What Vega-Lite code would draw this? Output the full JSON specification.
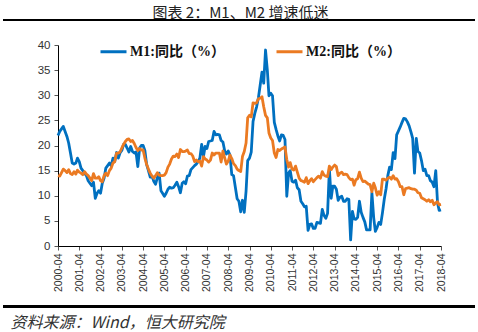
{
  "$schema": "https://vega.github.io/schema/vega-lite/v6.json",
  "autosize": "none",
  "width": 383,
  "height": 201,
  "padding": {"left": 58, "top": 45, "right": 37, "bottom": 86},
  "background": "white",
  "config": {"view": {"stroke": null}, "axis": {"labelOverlap": false}},
  "data": {"values": [
    {"d":"2000-04","m1":22.0,"m2":14.0},{"d":"2000-05","m1":22.8,"m2":13.9},{"d":"2000-06","m1":23.3,"m2":14.6},{"d":"2000-07","m1":23.8,"m2":15.3},{"d":"2000-08","m1":22.8,"m2":15.0},{"d":"2000-09","m1":21.8,"m2":14.6},{"d":"2000-10","m1":20.5,"m2":15.2},{"d":"2000-11","m1":18.5,"m2":14.4},{"d":"2000-12","m1":16.5,"m2":14.2},
    {"d":"2001-01","m1":16.3,"m2":14.8},{"d":"2001-02","m1":16.5,"m2":14.3},{"d":"2001-03","m1":17.5,"m2":15.1},{"d":"2001-04","m1":16.8,"m2":14.7},{"d":"2001-05","m1":15.5,"m2":14.5},{"d":"2001-06","m1":15.0,"m2":14.2},{"d":"2001-07","m1":14.5,"m2":14.8},{"d":"2001-08","m1":14.0,"m2":14.3},{"d":"2001-09","m1":13.0,"m2":14.0},{"d":"2001-10","m1":12.5,"m2":13.5},{"d":"2001-11","m1":12.0,"m2":13.0},{"d":"2001-12","m1":12.7,"m2":14.4},
    {"d":"2002-01","m1":9.5,"m2":13.5},{"d":"2002-02","m1":10.5,"m2":13.5},{"d":"2002-03","m1":11.0,"m2":13.8},{"d":"2002-04","m1":10.5,"m2":13.0},{"d":"2002-05","m1":12.5,"m2":12.8},{"d":"2002-06","m1":13.5,"m2":14.0},{"d":"2002-07","m1":15.5,"m2":14.5},{"d":"2002-08","m1":16.0,"m2":14.0},{"d":"2002-09","m1":16.5,"m2":15.0},{"d":"2002-10","m1":16.0,"m2":15.5},{"d":"2002-11","m1":17.5,"m2":16.5},{"d":"2002-12","m1":16.8,"m2":16.8},
    {"d":"2003-01","m1":18.6,"m2":18.5},{"d":"2003-02","m1":17.5,"m2":18.5},{"d":"2003-03","m1":18.5,"m2":18.7},{"d":"2003-04","m1":19.0,"m2":19.5},{"d":"2003-05","m1":20.2,"m2":20.2},{"d":"2003-06","m1":20.2,"m2":20.8},{"d":"2003-07","m1":19.5,"m2":21.2},{"d":"2003-08","m1":18.7,"m2":21.3},{"d":"2003-09","m1":19.8,"m2":20.8},{"d":"2003-10","m1":18.8,"m2":21.0},{"d":"2003-11","m1":18.5,"m2":20.4},{"d":"2003-12","m1":18.7,"m2":19.6},
    {"d":"2004-01","m1":15.8,"m2":19.0},{"d":"2004-02","m1":19.5,"m2":19.4},{"d":"2004-03","m1":20.0,"m2":19.1},{"d":"2004-04","m1":20.0,"m2":19.1},{"d":"2004-05","m1":19.0,"m2":17.5},{"d":"2004-06","m1":16.2,"m2":16.2},{"d":"2004-07","m1":15.0,"m2":15.3},{"d":"2004-08","m1":13.7,"m2":14.5},{"d":"2004-09","m1":13.9,"m2":13.9},{"d":"2004-10","m1":12.9,"m2":13.5},{"d":"2004-11","m1":12.3,"m2":14.0},{"d":"2004-12","m1":13.6,"m2":14.6},
    {"d":"2005-01","m1":14.5,"m2":14.1},{"d":"2005-02","m1":11.0,"m2":14.0},{"d":"2005-03","m1":10.5,"m2":14.0},{"d":"2005-04","m1":9.9,"m2":14.1},{"d":"2005-05","m1":10.5,"m2":14.6},{"d":"2005-06","m1":11.3,"m2":15.7},{"d":"2005-07","m1":11.7,"m2":16.3},{"d":"2005-08","m1":11.5,"m2":17.3},{"d":"2005-09","m1":11.6,"m2":17.9},{"d":"2005-10","m1":12.1,"m2":17.8},{"d":"2005-11","m1":12.7,"m2":18.3},{"d":"2005-12","m1":11.8,"m2":17.6},
    {"d":"2006-01","m1":10.6,"m2":19.2},{"d":"2006-02","m1":12.5,"m2":18.8},{"d":"2006-03","m1":12.8,"m2":18.8},{"d":"2006-04","m1":12.4,"m2":18.9},{"d":"2006-05","m1":13.9,"m2":19.1},{"d":"2006-06","m1":14.0,"m2":18.4},{"d":"2006-07","m1":15.2,"m2":18.4},{"d":"2006-08","m1":15.6,"m2":17.9},{"d":"2006-09","m1":16.0,"m2":16.8},{"d":"2006-10","m1":16.3,"m2":17.1},{"d":"2006-11","m1":16.8,"m2":16.8},{"d":"2006-12","m1":17.5,"m2":16.9},
    {"d":"2007-01","m1":20.2,"m2":15.9},{"d":"2007-02","m1":17.8,"m2":17.8},{"d":"2007-03","m1":19.8,"m2":17.3},{"d":"2007-04","m1":19.4,"m2":17.1},{"d":"2007-05","m1":20.8,"m2":16.7},{"d":"2007-06","m1":20.9,"m2":17.1},{"d":"2007-07","m1":21.0,"m2":18.5},{"d":"2007-08","m1":22.8,"m2":18.1},{"d":"2007-09","m1":22.1,"m2":18.5},{"d":"2007-10","m1":22.2,"m2":18.5},{"d":"2007-11","m1":22.1,"m2":18.5},{"d":"2007-12","m1":21.0,"m2":16.7},
    {"d":"2008-01","m1":20.7,"m2":18.9},{"d":"2008-02","m1":18.9,"m2":17.5},{"d":"2008-03","m1":18.3,"m2":16.3},{"d":"2008-04","m1":18.9,"m2":16.9},{"d":"2008-05","m1":18.1,"m2":18.1},{"d":"2008-06","m1":14.2,"m2":17.4},{"d":"2008-07","m1":14.0,"m2":16.4},{"d":"2008-08","m1":11.7,"m2":16.0},{"d":"2008-09","m1":9.4,"m2":15.3},{"d":"2008-10","m1":8.9,"m2":15.0},{"d":"2008-11","m1":6.8,"m2":14.8},{"d":"2008-12","m1":9.1,"m2":17.8},
    {"d":"2009-01","m1":6.7,"m2":18.8},{"d":"2009-02","m1":10.9,"m2":20.5},{"d":"2009-03","m1":17.0,"m2":25.5},{"d":"2009-04","m1":17.5,"m2":26.0},{"d":"2009-05","m1":18.7,"m2":25.7},{"d":"2009-06","m1":24.8,"m2":28.5},{"d":"2009-07","m1":26.4,"m2":28.4},{"d":"2009-08","m1":27.7,"m2":28.5},{"d":"2009-09","m1":29.5,"m2":29.3},{"d":"2009-10","m1":32.0,"m2":29.4},{"d":"2009-11","m1":34.6,"m2":29.7},{"d":"2009-12","m1":32.4,"m2":27.7},
    {"d":"2010-01","m1":39.0,"m2":26.0},{"d":"2010-02","m1":35.0,"m2":25.5},{"d":"2010-03","m1":29.9,"m2":22.5},{"d":"2010-04","m1":30.4,"m2":21.5},{"d":"2010-05","m1":29.9,"m2":21.0},{"d":"2010-06","m1":24.6,"m2":18.5},{"d":"2010-07","m1":23.2,"m2":17.6},{"d":"2010-08","m1":21.9,"m2":19.2},{"d":"2010-09","m1":20.9,"m2":19.0},{"d":"2010-10","m1":22.1,"m2":19.3},{"d":"2010-11","m1":22.0,"m2":19.5},{"d":"2010-12","m1":21.2,"m2":19.7},
    {"d":"2011-01","m1":9.9,"m2":17.2},{"d":"2011-02","m1":14.5,"m2":15.7},{"d":"2011-03","m1":15.0,"m2":16.6},{"d":"2011-04","m1":12.9,"m2":15.3},{"d":"2011-05","m1":12.7,"m2":15.1},{"d":"2011-06","m1":13.1,"m2":15.9},{"d":"2011-07","m1":11.6,"m2":14.7},{"d":"2011-08","m1":11.2,"m2":13.5},{"d":"2011-09","m1":8.9,"m2":13.0},{"d":"2011-10","m1":8.4,"m2":12.9},{"d":"2011-11","m1":7.8,"m2":12.7},{"d":"2011-12","m1":7.9,"m2":13.6},
    {"d":"2012-01","m1":3.1,"m2":12.4},{"d":"2012-02","m1":4.3,"m2":13.0},{"d":"2012-03","m1":4.4,"m2":13.4},{"d":"2012-04","m1":3.5,"m2":12.8},{"d":"2012-05","m1":3.5,"m2":13.2},{"d":"2012-06","m1":4.7,"m2":13.6},{"d":"2012-07","m1":4.6,"m2":13.9},{"d":"2012-08","m1":4.5,"m2":13.5},{"d":"2012-09","m1":7.3,"m2":14.8},{"d":"2012-10","m1":6.1,"m2":14.1},{"d":"2012-11","m1":5.5,"m2":13.9},{"d":"2012-12","m1":6.5,"m2":13.8},
    {"d":"2013-01","m1":15.3,"m2":15.9},{"d":"2013-02","m1":9.5,"m2":15.2},{"d":"2013-03","m1":11.9,"m2":15.7},{"d":"2013-04","m1":11.9,"m2":16.1},{"d":"2013-05","m1":11.3,"m2":15.8},{"d":"2013-06","m1":9.1,"m2":14.0},{"d":"2013-07","m1":9.7,"m2":14.5},{"d":"2013-08","m1":9.9,"m2":14.7},{"d":"2013-09","m1":8.9,"m2":14.2},{"d":"2013-10","m1":8.9,"m2":14.3},{"d":"2013-11","m1":9.4,"m2":14.2},{"d":"2013-12","m1":9.3,"m2":13.6},
    {"d":"2014-01","m1":1.2,"m2":13.2},{"d":"2014-02","m1":6.9,"m2":13.3},{"d":"2014-03","m1":5.4,"m2":12.1},{"d":"2014-04","m1":5.3,"m2":13.2},{"d":"2014-05","m1":5.7,"m2":13.4},{"d":"2014-06","m1":8.9,"m2":14.7},{"d":"2014-07","m1":6.7,"m2":13.5},{"d":"2014-08","m1":5.7,"m2":12.8},{"d":"2014-09","m1":4.8,"m2":12.9},{"d":"2014-10","m1":3.2,"m2":12.6},{"d":"2014-11","m1":3.2,"m2":12.3},{"d":"2014-12","m1":3.2,"m2":12.2},
    {"d":"2015-01","m1":10.6,"m2":10.8},{"d":"2015-02","m1":5.6,"m2":12.5},{"d":"2015-03","m1":2.9,"m2":11.6},{"d":"2015-04","m1":3.7,"m2":10.1},{"d":"2015-05","m1":4.7,"m2":10.8},{"d":"2015-06","m1":4.3,"m2":10.2},{"d":"2015-07","m1":6.6,"m2":13.3},{"d":"2015-08","m1":9.3,"m2":13.3},{"d":"2015-09","m1":11.4,"m2":13.1},{"d":"2015-10","m1":14.0,"m2":13.5},{"d":"2015-11","m1":15.7,"m2":13.7},{"d":"2015-12","m1":15.2,"m2":13.3},
    {"d":"2016-01","m1":18.6,"m2":14.0},{"d":"2016-02","m1":17.4,"m2":13.3},{"d":"2016-03","m1":22.1,"m2":13.4},{"d":"2016-04","m1":22.9,"m2":12.8},{"d":"2016-05","m1":23.7,"m2":11.8},{"d":"2016-06","m1":24.6,"m2":11.8},{"d":"2016-07","m1":25.4,"m2":10.2},{"d":"2016-08","m1":25.3,"m2":11.4},{"d":"2016-09","m1":24.7,"m2":11.5},{"d":"2016-10","m1":23.9,"m2":11.6},{"d":"2016-11","m1":22.7,"m2":11.4},{"d":"2016-12","m1":21.4,"m2":11.3},
    {"d":"2017-01","m1":14.5,"m2":11.3},{"d":"2017-02","m1":21.4,"m2":11.1},{"d":"2017-03","m1":18.8,"m2":10.6},{"d":"2017-04","m1":18.5,"m2":10.5},{"d":"2017-05","m1":17.0,"m2":9.6},{"d":"2017-06","m1":15.0,"m2":9.4},{"d":"2017-07","m1":15.3,"m2":9.2},{"d":"2017-08","m1":14.0,"m2":8.9},{"d":"2017-09","m1":14.0,"m2":9.2},{"d":"2017-10","m1":13.0,"m2":8.8},{"d":"2017-11","m1":12.7,"m2":9.1},{"d":"2017-12","m1":11.8,"m2":8.2},
    {"d":"2018-01","m1":15.0,"m2":8.6},{"d":"2018-02","m1":8.5,"m2":8.8},{"d":"2018-03","m1":7.1,"m2":8.2},{"d":"2018-04","m1":7.2,"m2":8.3}
  ]},
  "layer": [
    {
      "transform": [{"fold": ["m1", "m2"], "as": ["s", "v"]}],
      "mark": {"type": "line", "strokeWidth": 2.8, "strokeJoin": "round"},
      "encoding": {
        "x": {
          "field": "d", "type": "temporal",
          "scale": {"type": "utc", "domain": [{"year": 2000, "month": 4, "date": 1, "utc": true}, {"year": 2018, "month": 4, "date": 1, "utc": true}]},
          "axis": {
            "values": [
              {"year": 2000, "month": 4, "date": 1, "utc": true},{"year": 2001, "month": 4, "date": 1, "utc": true},{"year": 2002, "month": 4, "date": 1, "utc": true},{"year": 2003, "month": 4, "date": 1, "utc": true},{"year": 2004, "month": 4, "date": 1, "utc": true},{"year": 2005, "month": 4, "date": 1, "utc": true},{"year": 2006, "month": 4, "date": 1, "utc": true},{"year": 2007, "month": 4, "date": 1, "utc": true},{"year": 2008, "month": 4, "date": 1, "utc": true},{"year": 2009, "month": 4, "date": 1, "utc": true},{"year": 2010, "month": 4, "date": 1, "utc": true},{"year": 2011, "month": 4, "date": 1, "utc": true},{"year": 2012, "month": 4, "date": 1, "utc": true},{"year": 2013, "month": 4, "date": 1, "utc": true},{"year": 2014, "month": 4, "date": 1, "utc": true},{"year": 2015, "month": 4, "date": 1, "utc": true},{"year": 2016, "month": 4, "date": 1, "utc": true},{"year": 2017, "month": 4, "date": 1, "utc": true},{"year": 2018, "month": 4, "date": 1, "utc": true}
            ],
            "tickCount": 40,
            "format": "%Y-%m",
            "labelAngle": 270,
            "labelAlign": "right",
            "labelBaseline": "middle",
            "labelFont": "Liberation Sans",
            "labelFontSize": 10.5,
            "labelColor": "#333333",
            "labelPadding": 3,
            "labelOverlap": false,
            "labelFlush": false,
            "tickSize": 4,
            "tickColor": "#555555",
            "domainColor": "#000000",
            "domainWidth": 1,
            "grid": false,
            "title": "资料来源：Wind，恒大研究院",
            "titleFont": "Noto Sans CJK SC",
            "titleFontSize": 16,
            "titleFontWeight": "normal",
            "titleFontStyle": "italic",
            "titleColor": "#333333",
            "titleAlign": "left",
            "titleBaseline": "alphabetic",
            "titleAngle": 0,
            "titleX": -48,
            "titleY": 81
          }
        },
        "y": {
          "field": "v", "type": "quantitative",
          "scale": {"domain": [0, 40], "nice": false},
          "axis": {
            "values": [0, 5, 10, 15, 20, 25, 30, 35, 40],
            "tickCount": 40,
            "labelOverlap": false,
            "labelFont": "Liberation Sans",
            "labelFontSize": 11.5,
            "labelColor": "#333333",
            "labelPadding": 4,
            "tickSize": 4,
            "tickColor": "#555555",
            "domainColor": "#000000",
            "domainWidth": 1,
            "grid": false,
            "title": "图表 2：M1、M2 增速低迷",
            "titleFont": "Noto Sans CJK SC",
            "titleFontSize": 15,
            "titleFontWeight": "normal",
            "titleColor": "#222222",
            "titleAngle": 0,
            "titleAlign": "center",
            "titleBaseline": "alphabetic",
            "titleX": 182,
            "titleY": -28
          }
        },
        "color": {
          "field": "s", "type": "nominal",
          "scale": {"domain": ["m1", "m2"], "range": ["#0070C0", "#EB7A22"]},
          "legend": {
            "orient": "none",
            "legendX": 41,
            "legendY": -8,
            "direction": "horizontal",
            "title": null,
            "padding": 0,
            "symbolType": "stroke",
            "symbolSize": 676,
            "symbolStrokeWidth": 3,
            "labelOffset": 2,
            "columnPadding": 45,
            "labelFont": "Liberation Serif, Noto Sans CJK SC",
            "labelFontSize": 14,
            "labelFontWeight": "bold",
            "labelColor": "#111111",
            "labelExpr": "datum.label == 'm1' ? 'M1:同比（%）' : 'M2:同比（%）'"
          }
        }
      }
    },
    {
      "mark": {"type": "rule", "color": "#000000", "strokeWidth": 2},
      "encoding": {
        "x": {"datum": {"year": 1997, "month": 9, "date": 1, "utc": true}, "type": "temporal"},
        "x2": {"datum": {"year": 2019, "month": 11, "date": 1, "utc": true}},
        "y": {"datum": 45, "type": "quantitative"}
      }
    },
    {
      "mark": {"type": "rule", "color": "#000000", "strokeWidth": 2},
      "encoding": {
        "x": {"datum": {"year": 1997, "month": 9, "date": 1, "utc": true}, "type": "temporal"},
        "x2": {"datum": {"year": 2019, "month": 11, "date": 1, "utc": true}},
        "y": {"datum": -12.1, "type": "quantitative"}
      }
    }
  ]
}
